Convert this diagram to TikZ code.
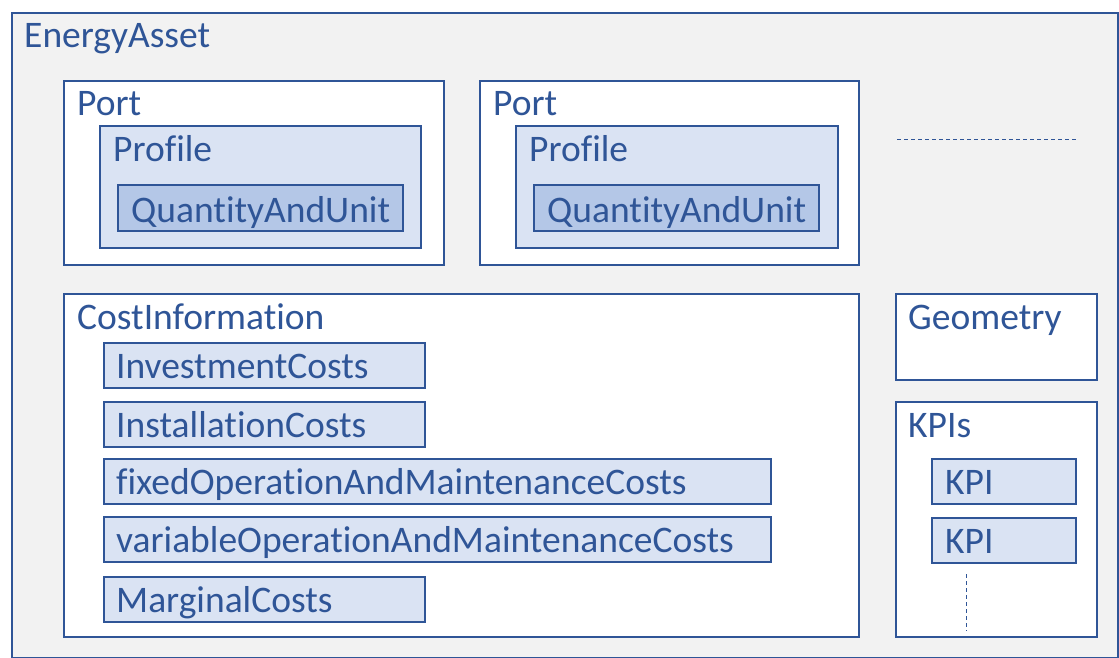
\documentclass[tikz,border=0pt]{standalone}
\usepackage{fontspec}
\setmainfont[Ligatures=NoCommon]{Carlito}
\definecolor{edgeblue}{HTML}{2F5597}
\definecolor{backgrey}{HTML}{F2F2F2}
\definecolor{paleblue}{HTML}{DAE3F3}
\definecolor{midblue}{HTML}{B4C7E7}
\begin{document}
\begin{tikzpicture}[x=1pt,y=-1pt,font=\fontsize{37.5}{45}\selectfont,text=edgeblue]
        \useasboundingbox (0,0) rectangle (1119,658);

        % boxes
        \begin{scope}[every node/.style={draw=edgeblue, line width=2pt, inner sep=0pt, anchor=north west}]
          \node[fill=backgrey, minimum width=1106, minimum height=645] (asset) at (11,12) {};
          \node[fill=white, minimum width=380, minimum height=184] (port1) at (63,80) {};
          \node[fill=white, minimum width=379, minimum height=184] (port2) at (479,80) {};
          \node[fill=paleblue, minimum width=321, minimum height=122] (prof1) at (99,125) {};
          \node[fill=paleblue, minimum width=322, minimum height=122] (prof2) at (515,125) {};
          \node[fill=midblue, minimum width=285, minimum height=46] (qau1) at (117,184) {};
          \node[fill=midblue, minimum width=285, minimum height=46] (qau2) at (533,184) {};
          \node[fill=white, minimum width=795, minimum height=343] (cost) at (63,293) {};
          \node[fill=white, minimum width=201, minimum height=86] (geom) at (895,293) {};
          \node[fill=white, minimum width=201, minimum height=235] (kpis) at (895,401) {};
          \node[fill=paleblue, minimum width=321, minimum height=45] (invest) at (103,342) {};
          \node[fill=paleblue, minimum width=321, minimum height=45] (install) at (103,401) {};
          \node[fill=paleblue, minimum width=667, minimum height=45] (fixed) at (103,458) {};
          \node[fill=paleblue, minimum width=667, minimum height=45] (variable) at (103,516) {};
          \node[fill=paleblue, minimum width=321, minimum height=45] (marginal) at (103,576) {};
          \node[fill=paleblue, minimum width=144, minimum height=45] (kpi1) at (931,458) {};
          \node[fill=paleblue, minimum width=144, minimum height=45] (kpi2) at (931,517) {};
        \end{scope}

        % labels
        \begin{scope}[every node/.style={anchor=base west, inner sep=0pt}]
          \node (assettext) at (24,48) {EnergyAsset};
          \node (port1text) at (77,116) {Port};
          \node (port2text) at (493,116) {Port};
          \node (prof1text) at (113,161) {Profile};
          \node (prof2text) at (529,161) {Profile};
          \node (qau1text) at (131,222) {QuantityAndUnit};
          \node (qau2text) at (547,222) {QuantityAndUnit};
          \node (costtext) at (77,329) {CostInformation};
          \node (geomtext) at (908,329) {Geometry};
          \node (kpistext) at (908,437) {KPIs};
          \node (investtext) at (116,378) {InvestmentCosts};
          \node (installtext) at (116,437) {InstallationCosts};
          \node (fixedtext) at (116,494) {fixedOperationAndMaintenanceCosts};
          \node (variabletext) at (116,552) {variableOperationAndMaintenanceCosts};
          \node (marginaltext) at (116,612) {MarginalCosts};
          \node (kpi1text) at (945,494) {KPI};
          \node (kpi2text) at (945,553) {KPI};
        \end{scope}

        % more ports / more KPIs
        \coordinate (moreA) at (897,140);
        \coordinate (moreB) at (1078,140);
        \coordinate (kpidotsA) at (966,574);
        \coordinate (kpidotsB) at (966,631);
        \draw[edgeblue, line width=1pt, dash pattern=on 4pt off 3pt] (moreA) -- (moreB);
        \draw[edgeblue, line width=1pt, dash pattern=on 4pt off 3pt] (kpidotsA) -- (kpidotsB);

      \end{tikzpicture}
\end{document}
